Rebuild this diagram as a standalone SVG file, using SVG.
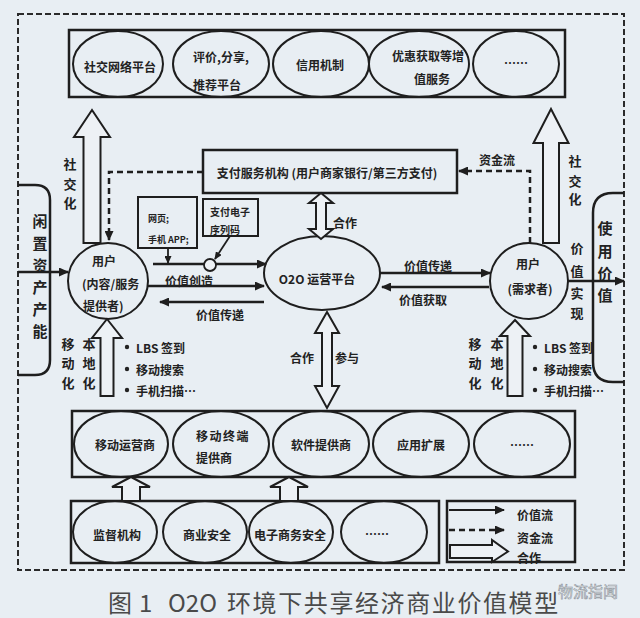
<svg xmlns="http://www.w3.org/2000/svg" width="640" height="618" viewBox="0 0 640 618">
<style>
.bg{fill:#e8eef3}
.box{fill:none;stroke:#1e1e1e;stroke-width:2.5}
.ell{fill:none;stroke:#1e1e1e;stroke-width:2}
.hol{fill:#edf1f5;stroke:#1e1e1e;stroke-width:2;stroke-linejoin:miter}
.t{font-family:"Noto Sans CJK SC","Noto Sans",sans-serif;font-size:12px;font-weight:bold;fill:#222;text-anchor:middle;dominant-baseline:central}
.s{text-anchor:start}
.v{font-size:13px}
.big{font-size:15px}
.sm{font-size:9px}
.flow{fill:none;stroke:#1e1e1e;stroke-width:2.5;marker-end:url(#ah)}
.cash{fill:none;stroke:#1e1e1e;stroke-width:2.5;stroke-dasharray:6 4;marker-end:url(#ah)}
.thin{fill:none;stroke:#1e1e1e;stroke-width:1.8;marker-end:url(#ah2)}
.outer{fill:none;stroke:#2a2a2a;stroke-width:2;stroke-dasharray:6 3}
.cap{font-family:"Noto Sans CJK SC","Noto Sans",sans-serif;font-size:24px;fill:#4a4a4a;dominant-baseline:central}
</style>
<defs>
<marker id="ah" markerUnits="userSpaceOnUse" markerWidth="10" markerHeight="9" viewBox="0 0 10 9" refX="9" refY="4.5" orient="auto"><path d="M0,0 L10,4.5 L0,9 Z" fill="#1e1e1e"/></marker>
<marker id="ah2" markerUnits="userSpaceOnUse" markerWidth="8" markerHeight="7" viewBox="0 0 8 7" refX="7" refY="3.5" orient="auto"><path d="M0,0 L8,3.5 L0,7 Z" fill="#1e1e1e"/></marker>
</defs>
<rect class="bg" x="0" y="0" width="640" height="618"/>
<rect class="outer" x="18" y="14" width="606" height="556"/>

<g id="top-row">
<rect class="box" x="69" y="30" width="496" height="67"/>
<ellipse class="ell" cx="118" cy="64" rx="45" ry="33"/>
<ellipse class="ell" cx="221" cy="64" rx="48" ry="33"/>
<ellipse class="ell" cx="321" cy="64" rx="48" ry="33"/>
<ellipse class="ell" cx="419" cy="64" rx="50" ry="33"/>
<ellipse class="ell" cx="516" cy="64" rx="43" ry="33"/>
<text class="t" x="120" y="66">社交网络平台</text>
<text class="t s" x="193" y="56">评价,分享,</text>
<text class="t s" x="193" y="84">推荐平台</text>
<text class="t" x="320" y="64">信用机制</text>
<text class="t" x="428" y="55">优惠获取等增</text>
<text class="t" x="432" y="78">值服务</text>
<text class="t" x="516" y="62">……</text>
</g>

<g id="idle-assets">
<path class="box" d="M18,185 L35,185 Q50,185 50,200 L50,360 Q50,375 35,375 L18,375"/>
<text class="t big" x="40" y="220">闲</text>
<text class="t big" x="40" y="242">置</text>
<text class="t big" x="40" y="264">资</text>
<text class="t big" x="40" y="286">产</text>
<text class="t big" x="40" y="308">产</text>
<text class="t big" x="40" y="330">能</text>
</g>

<g id="use-value">
<path class="box" d="M624,193 L613,193 Q593,193 593,213 L593,362 Q593,382 613,382 L624,382"/>
<text class="t big" x="605" y="227">使</text>
<text class="t big" x="605" y="250">用</text>
<text class="t big" x="605" y="272">价</text>
<text class="t big" x="605" y="294">值</text>
</g>

<g id="payment">
<rect class="box" x="203" y="150" width="254" height="43"/>
<text class="t" x="327" y="172">支付服务机构 (用户商家银行/第三方支付)</text>
</g>

<g id="web-app">
<rect class="box" x="138" y="197" width="59" height="51" style="stroke-width:2"/>
<text class="t s sm" x="148" y="218">网页;</text>
<text class="t s sm" x="148" y="239">手机 APP;</text>
</g>

<g id="serial">
<rect class="box" x="203" y="199" width="55" height="37" style="stroke-width:2"/>
<text class="t s" x="210" y="211" style="font-size:10px">支付电子</text>
<text class="t s" x="210" y="229" style="font-size:10px">序列码</text>
</g>

<g id="user-provider">
<ellipse class="ell" cx="108" cy="281" rx="40" ry="38"/>
<text class="t s" x="92" y="260">用户</text>
<text class="t s" x="82" y="283">(内容/服务</text>
<text class="t s" x="83" y="305">提供者)</text>
</g>

<g id="o2o">
<ellipse class="ell" cx="322" cy="273" rx="58" ry="37"/>
<text class="t" x="317" y="278">O2O  运营平台</text>
</g>

<g id="user-demand">
<ellipse class="ell" cx="529" cy="281" rx="39" ry="38"/>
<text class="t" x="528" y="263">用户</text>
<text class="t" x="530" y="288">(需求者)</text>
</g>

<g id="middle-row">
<rect class="box" x="72" y="411" width="503" height="66"/>
<ellipse class="ell" cx="121" cy="444" rx="47" ry="33"/>
<ellipse class="ell" cx="221" cy="444" rx="48" ry="33"/>
<ellipse class="ell" cx="321" cy="444" rx="48" ry="33"/>
<ellipse class="ell" cx="421" cy="444" rx="48" ry="33"/>
<ellipse class="ell" cx="522" cy="444" rx="48" ry="33"/>
<text class="t" x="125" y="444">移动运营商</text>
<text class="t s" x="196" y="435" style="letter-spacing:1.5px">移动终端</text>
<text class="t s" x="196" y="457">提供商</text>
<text class="t" x="321" y="444">软件提供商</text>
<text class="t" x="421" y="444">应用扩展</text>
<text class="t" x="522" y="444">……</text>
</g>

<g id="bottom-row">
<rect class="box" x="71" y="501" width="368" height="62"/>
<ellipse class="ell" cx="115" cy="532" rx="42" ry="31"/>
<ellipse class="ell" cx="205" cy="532" rx="42" ry="31"/>
<ellipse class="ell" cx="291" cy="532" rx="42" ry="31"/>
<ellipse class="ell" cx="384" cy="532" rx="43" ry="31"/>
<text class="t" x="117" y="534">监督机构</text>
<text class="t" x="207" y="534">商业安全</text>
<text class="t" x="290" y="534">电子商务安全</text>
<text class="t" x="377" y="533">……</text>
</g>

<g id="legend">
<rect class="box" x="447" y="501" width="128" height="61"/>
<line class="flow" x1="449" y1="510" x2="504" y2="510" style="stroke-width:2"/>
<line class="cash" x1="449" y1="530" x2="504" y2="530" style="stroke-width:2.5"/>
<polygon class="hol" points="450,545 492,545 492,540 508,551.5 492,562 492,558 450,558"/>
<text class="t s" x="517" y="514">价值流</text>
<text class="t s" x="517" y="537">资金流</text>
<text class="t s" x="517" y="557">合作</text>
</g>

<g id="connectors">
<polygon class="hol" points="92,110 110,137 100.5,137 100.5,243 83.5,243 83.5,137 74,137"/>
<polygon class="hol" points="551,109 568.5,143 559,143 559,243 543,243 543,143 533.5,143"/>
<polygon class="hol" points="107,319 122,338 113.5,338 113.5,396 100.5,396 100.5,338 92,338"/>
<polygon class="hol" points="515,320 530,336 522.5,336 522.5,396 507.5,396 507.5,336 500,336"/>
<polygon class="hol" points="321,193 333,203 326,203 326,229 333,229 321,239 309,229 316,229 316,203 309,203"/>
<polygon class="hol" points="327,312 339,333 332,333 332,386 339,386 327,408 315,386 322,386 322,333 315,333"/>
<polygon class="hol" points="131,477 150,487 140,487 140,501 122,501 122,487 112,487"/>
<polygon class="hol" points="289,477 308,487 298,487 298,501 280,501 280,487 270,487"/>
<line class="flow" x1="18" y1="272" x2="68" y2="272"/>
<line class="flow" x1="153" y1="264" x2="266" y2="264"/>
<line class="flow" x1="148" y1="286" x2="264" y2="286"/>
<line class="flow" x1="264" y1="302" x2="160" y2="302"/>
<line class="flow" x1="380" y1="273" x2="490" y2="273"/>
<line class="flow" x1="489" y1="287" x2="382" y2="287"/>
<line class="flow" x1="568" y1="281" x2="624" y2="281"/>
<circle cx="210" cy="265" r="6" fill="#edf1f5" stroke="#1e1e1e" stroke-width="1.8"/>
<line class="thin" x1="168" y1="248" x2="168" y2="263"/>
<line class="thin" x1="230" y1="236" x2="215" y2="259"/>
<polyline class="cash" points="203,172 109,172 109,240"/>
<polyline class="cash" points="530,243 530,171 459,171"/>
</g>

<g id="labels">
<text class="t v" x="70" y="163">社</text>
<text class="t v" x="70" y="183">交</text>
<text class="t v" x="70" y="202">化</text>
<text class="t v" x="575" y="160">社</text>
<text class="t v" x="575" y="180">交</text>
<text class="t v" x="575" y="198">化</text>
<text class="t v" x="577" y="247">价</text>
<text class="t v" x="577" y="270">值</text>
<text class="t v" x="577" y="292">实</text>
<text class="t v" x="577" y="312">现</text>
<text class="t" x="497" y="159">资金流</text>
<text class="t" x="345" y="222">合作</text>
<text class="t" x="189" y="280">价值创造</text>
<text class="t" x="220" y="314">价值传递</text>
<text class="t" x="428" y="265">价值传递</text>
<text class="t" x="423" y="299">价值获取</text>
<text class="t" x="302" y="357">合作</text>
<text class="t" x="347" y="357">参与</text>
<text class="t v" x="68" y="343">移</text>
<text class="t v" x="68" y="362">动</text>
<text class="t v" x="68" y="382">化</text>
<text class="t v" x="89" y="343">本</text>
<text class="t v" x="89" y="362">地</text>
<text class="t v" x="89" y="382">化</text>
<text class="t v" x="475" y="343">移</text>
<text class="t v" x="475" y="362">动</text>
<text class="t v" x="475" y="382">化</text>
<text class="t v" x="497" y="343">本</text>
<text class="t v" x="497" y="362">地</text>
<text class="t v" x="497" y="382">化</text>
<circle cx="127" cy="347" r="2.2" fill="#222"/>
<circle cx="127" cy="369" r="2.2" fill="#222"/>
<circle cx="127" cy="390" r="2.2" fill="#222"/>
<text class="t s" x="136" y="347">LBS 签到</text>
<text class="t s" x="136" y="369">移动搜索</text>
<text class="t s" x="136" y="390">手机扫描…</text>
<circle cx="535" cy="347" r="2.2" fill="#222"/>
<circle cx="535" cy="369" r="2.2" fill="#222"/>
<circle cx="535" cy="390" r="2.2" fill="#222"/>
<text class="t s" x="544" y="347">LBS 签到</text>
<text class="t s" x="544" y="369">移动搜索</text>
<text class="t s" x="544" y="390">手机扫描…</text>
</g>

<g id="caption">
<text class="cap" x="108" y="601">图</text>
<text class="cap" x="139" y="601">1</text>
<text class="cap" x="168" y="601">O2O</text>
<text class="cap" x="227" y="601" style="letter-spacing:1.6px">环境下共享经济商业价值模型</text>
<text x="588" y="590" style="font-family:'Noto Sans CJK SC',sans-serif;font-size:15px;fill:#f5f7f9;stroke:#8e959c;stroke-width:0.6;text-anchor:middle;dominant-baseline:central">物流指闻</text>
</g>
</svg>
